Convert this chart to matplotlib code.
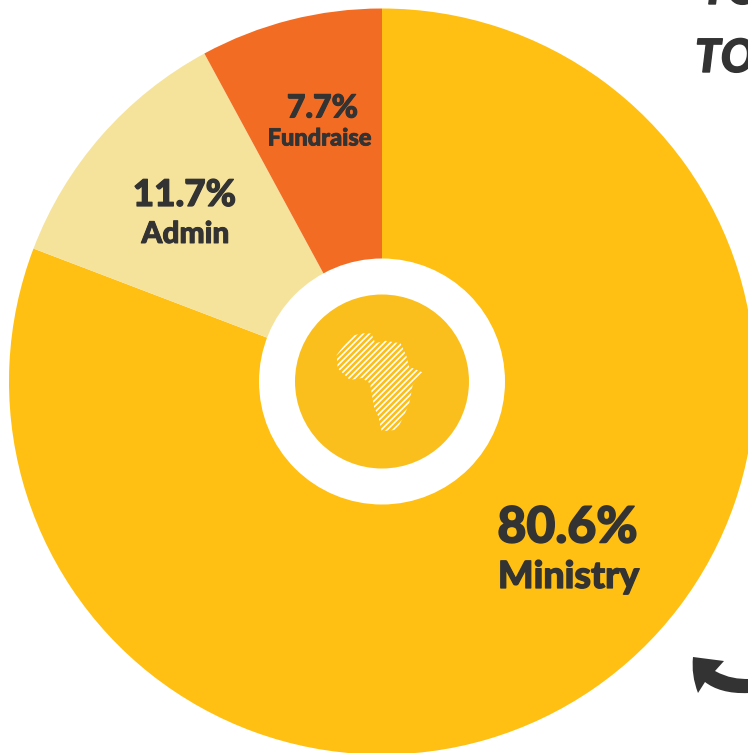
import matplotlib
matplotlib.use("Agg")
import matplotlib.pyplot as plt
import matplotlib.patheffects as pe
from matplotlib.patches import Circle, Polygon, PathPatch
from matplotlib.path import Path
import numpy as np

categories = ["Ministry", "Admin", "Fundraise"]
values = [80.8, 11.3, 7.9]  # shares as drawn (angles)
value_labels = ["80.6%", "11.7%", "7.7%"]
colors = ["#FFC013", "#F6E39B", "#F36C24"]
INK = "#333333"
W, H = 748, 753
CX, CY, R = 382, 381.5, 373

def Y(y):
    return H - y

plt.rcParams["font.family"] = ["Lato", "DejaVu Sans"]
fig = plt.figure(figsize=(W / 100, H / 100), dpi=100)
ax = fig.add_axes([0, 0, 1, 1])
ax.pie(values, colors=colors, startangle=90, counterclock=False,
       center=(CX, Y(CY)), radius=R, frame=True,
       wedgeprops=dict(linewidth=0))
ax.set_xlim(0, W)
ax.set_ylim(0, H)
ax.set_aspect("auto")
ax.axis("off")

ax.add_patch(Circle((CX, Y(CY)), 123, fc="white", ec="none", zorder=3))
ax.add_patch(Circle((CX, Y(CY)), 87, fc="#FBBF1D", ec="none", zorder=4))

# Africa: diagonal white stripes clipped to the continent outline
zoom_outline = [(150,108),(190,100),(214,100),(226,130),(255,122),(302,130),(320,170),
                (327,200),(370,218),(338,255),(328,310),(313,345),(298,375),(283,390),
                (245,394),(235,350),(222,320),(210,250),(185,234),(150,240),(113,205),
                (110,165),(150,113)]
outline = [(300 + x / 3, Y(300 + y / 3)) for x, y in zoom_outline]
clip = Polygon(outline, closed=True, fc="none", ec="none", zorder=5)
ax.add_patch(clip)
for c in np.arange(-100, 200, 6.0):
    x0, x1 = 320.0, 440.0
    line, = ax.plot([x0, x1], [Y(381) + c + (x0 - 382) - 50, Y(381) + c + (x1 - 382) - 50],
                    color="white", lw=1.15, zorder=5, solid_capstyle="butt")
    line.set_clip_path(clip)

def label(x, y, s, size, stroke=0.7, **kw):
    t = ax.text(x, Y(y), s, color=INK, fontsize=size, fontweight="black", zorder=6, **kw)
    t.set_path_effects([pe.withStroke(linewidth=stroke, foreground=INK)])
    return t

# Text labels
label(567.5, 528, value_labels[0], 36, 1.1, ha="center", va="center")
label(568.5, 577, categories[0], 27, 0.9, ha="center", va="center")
label(184.5, 195, value_labels[1], 26.5, 0.9, ha="center", va="center")
label(185.5, 234, categories[1], 21.5, 0.7, ha="center", va="center")
label(322.5, 108, value_labels[2], 23, 0.8, ha="center", va="center")
label(319.5, 138, categories[2], 17, 0.6, ha="center", va="center")

# Cropped heading fragments at the top right
label(695, 72, "TO", 33, 1.0, ha="left", va="baseline", fontstyle="italic")
label(701, 4, "TO", 33, 1.0, ha="left", va="baseline", fontstyle="italic")

# Curved arrow at the lower right
P = lambda x, y: (x, Y(y))
arrow_verts = [P(693,657), P(724,661), P(715,671), P(728,678), P(738,679), P(749,679),
               P(749,693), P(728,694), P(714,689), P(705,682), P(698,693), P(691,675),
               P(693,657), P(693,657)]
arrow_codes = [Path.MOVETO, Path.LINETO, Path.LINETO, Path.CURVE4, Path.CURVE4, Path.CURVE4,
               Path.LINETO, Path.CURVE4, Path.CURVE4, Path.CURVE4, Path.LINETO,
               Path.CURVE3, Path.CURVE3, Path.CLOSEPOLY]
ax.add_patch(PathPatch(Path(arrow_verts, arrow_codes), fc=INK, ec="none", zorder=6))

fig.savefig("out.png", dpi=100)
